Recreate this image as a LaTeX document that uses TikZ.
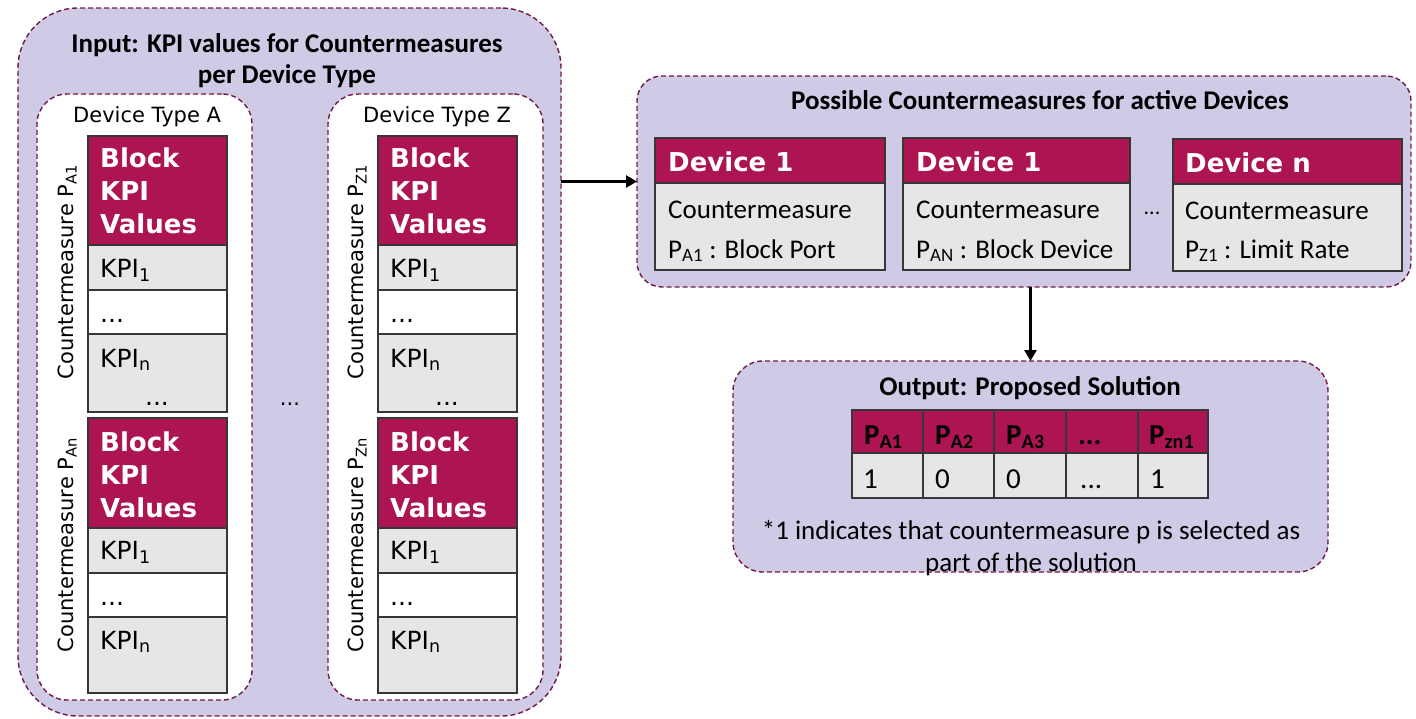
\documentclass[tikz,border=0pt]{standalone}
\usepackage{fontspec}
\setmainfont{Carlito}
\newfontfamily\vfont{DejaVu Sans}
\usetikzlibrary{arrows.meta}
\definecolor{lav}{RGB}{207,203,230}
\definecolor{mar}{RGB}{173,20,82}
\definecolor{dashc}{RGB}{115,25,72}
\definecolor{cellg}{RGB}{230,230,230}
\definecolor{edgec}{RGB}{55,55,55}
\newcommand\fsz[2]{\fontsize{#1}{#2}\selectfont}
% box helper: style, name, x1, y1, x2, y2
\newcommand\bx[6]{\node[#1, minimum width={(#5)-(#3)}, minimum height={(#6)-(#4)}] (#2) at ({((#3)+(#5))/2},{((#4)+(#6))/2}) {};}
\tikzset{
  panel/.style={draw=dashc, dash pattern=on 5pt off 3pt, line width=1.4pt, fill=lav, inner sep=0pt, outer sep=0pt},
  wpanel/.style={panel, fill=white},
  hdr/.style={draw=edgec, line width=1.4pt, fill=mar, inner sep=0pt, outer sep=0pt},
  cell/.style={draw=edgec, line width=1.4pt, fill=cellg, inner sep=0pt, outer sep=0pt},
  wcell/.style={cell, fill=white},
  lt/.style={inner sep=0pt, anchor=base west},
  ttl/.style={inner sep=0pt, anchor=base, font=\bfseries\fsz{27}{33}},
  vtxt/.style={lt, font=\vfont\fsz{21}{26}},
  ktxt/.style={lt, font=\vfont\fsz{25}{30}},
  vhdr/.style={lt, font=\vfont\bfseries\fsz{26}{32}, text=white},
  rot/.style={inner sep=0pt, anchor=center, rotate=90, font=\vfont\fsz{21}{26}},
  ctxt/.style={lt, font=\fsz{27}{33}},
  tval/.style={lt, font=\fsz{29}{33}},
  chdr/.style={lt, font=\bfseries\fsz{29}{33}},
  arr/.style={line width=3pt, -{Triangle[length=11pt,width=12pt]}}
}
\begin{document}
\begin{tikzpicture}[x=1pt,y=-1pt]
\useasboundingbox (0,0) rectangle (1416,718);

% ---------- Input panel ----------
\node[panel, rounded corners=60pt, minimum width=543, minimum height=708] (inp) at (289.5,362) {};
\node[ttl] (inpt1) at (287,52) {Input: KPI values for Countermeasures};
\node[ttl] (inpt2) at (287,83) {per Device Type};

\node[wpanel, rounded corners=30pt, minimum width=215, minimum height=606] (ta) at (144.5,397) {};
\node[wpanel, rounded corners=30pt, minimum width=215, minimum height=606] (tz) at (435.5,397) {};
\node[vtxt] (tal) at (73,122) {Device Type A};
\node[vtxt] (tzl) at (363,122) {Device Type Z};

% column A
\bx{hdr}{a1h}{88}{136}{227}{245}
\bx{cell}{a1k1}{88}{245}{227}{290}
\bx{wcell}{a1d}{88}{290}{227}{334}
\bx{cell}{a1kn}{88}{334}{227}{412}
\bx{hdr}{a2h}{88}{418}{227}{528}
\bx{cell}{a2k1}{88}{528}{227}{573}
\bx{wcell}{a2d}{88}{573}{227}{617}
\bx{cell}{a2kn}{88}{617}{227}{693}
% column Z
\bx{hdr}{z1h}{378}{136}{517}{245}
\bx{cell}{z1k1}{378}{245}{517}{290}
\bx{wcell}{z1d}{378}{290}{517}{334}
\bx{cell}{z1kn}{378}{334}{517}{412}
\bx{hdr}{z2h}{378}{418}{517}{528}
\bx{cell}{z2k1}{378}{528}{517}{573}
\bx{wcell}{z2d}{378}{573}{517}{617}
\bx{cell}{z2kn}{378}{617}{517}{693}

% texts A
\node[vhdr] (a1t1) at (100,167) {Block};
\node[vhdr] (a1t2) at (100,200) {KPI};
\node[vhdr] (a1t3) at (100,233) {Values};
\node[ktxt] (a1t4) at (100,277) {KPI\textsubscript{1}};
\node[ktxt] (a1t5) at (100,322) {...};
\node[ktxt] (a1t6) at (100,367) {KPI\textsubscript{n}};
\node[ktxt, anchor=base] (a1t7) at (157,405) {...};
\node[vhdr] (a2t1) at (100,451) {Block};
\node[vhdr] (a2t2) at (100,484) {KPI};
\node[vhdr] (a2t3) at (100,517) {Values};
\node[ktxt] (a2t4) at (100,559) {KPI\textsubscript{1}};
\node[ktxt] (a2t5) at (100,605) {...};
\node[ktxt] (a2t6) at (100,649) {KPI\textsubscript{n}};
% texts Z
\node[vhdr] (z1t1) at (390,167) {Block};
\node[vhdr] (z1t2) at (390,200) {KPI};
\node[vhdr] (z1t3) at (390,233) {Values};
\node[ktxt] (z1t4) at (390,277) {KPI\textsubscript{1}};
\node[ktxt] (z1t5) at (390,322) {...};
\node[ktxt] (z1t6) at (390,367) {KPI\textsubscript{n}};
\node[ktxt, anchor=base] (z1t7) at (447,405) {...};
\node[vhdr] (z2t1) at (390,451) {Block};
\node[vhdr] (z2t2) at (390,484) {KPI};
\node[vhdr] (z2t3) at (390,517) {Values};
\node[ktxt] (z2t4) at (390,559) {KPI\textsubscript{1}};
\node[ktxt] (z2t5) at (390,605) {...};
\node[ktxt] (z2t6) at (390,649) {KPI\textsubscript{n}};

% rotated labels
\node[rot] (ra1) at (67,272) {Countermeasure P\textsubscript{A1}};
\node[rot] (ra2) at (67,545) {Countermeasure P\textsubscript{An}};
\node[rot] (rz1) at (357,272) {Countermeasure P\textsubscript{Z1}};
\node[rot] (rz2) at (357,545) {Countermeasure P\textsubscript{Zn}};
\node[vtxt, anchor=base] (mdots) at (290,405) {...};

% ---------- Possible countermeasures panel ----------
\node[panel, rounded corners=25pt, minimum width=774, minimum height=211] (rp) at (1024,181.5) {};
\node[ttl] (rpt) at (1040,109) {Possible Countermeasures for active Devices};

\bx{hdr}{d1h}{655}{138}{885}{183}
\bx{cell}{d1b}{655}{183}{885}{270}
\bx{hdr}{d2h}{903}{138}{1130}{183}
\bx{cell}{d2b}{903}{183}{1130}{270}
\bx{hdr}{d3h}{1173}{139}{1402}{184}
\bx{cell}{d3b}{1173}{184}{1402}{271}

\node[vhdr] (d1t) at (668,171) {Device 1};
\node[ctxt] (d1c) at (668,218) {Countermeasure};
\node[ctxt] (d1p) at (668,258) {P\textsubscript{A1} : Block Port};
\node[vhdr] (d2t) at (916,171) {Device 1};
\node[ctxt] (d2c) at (916,218) {Countermeasure};
\node[ctxt] (d2p) at (916,258) {P\textsubscript{AN} : Block Device};
\node[vhdr] (d3t) at (1185,172) {Device n};
\node[ctxt] (d3c) at (1185,219) {Countermeasure};
\node[ctxt] (d3p) at (1185,258) {P\textsubscript{Z1} : Limit Rate};
\node[inner sep=0pt, anchor=base, font=\fsz{22}{26}] (ddots) at (1152,214) {...};

% ---------- Output panel ----------
\node[panel, rounded corners=30pt, minimum width=595, minimum height=211] (op) at (1030.5,466.5) {};
\node[ttl] (opt) at (1030,395) {Output: Proposed Solution};

\bx{hdr}{h1}{852}{410}{923}{453}
\bx{hdr}{h2}{923}{410}{994}{453}
\bx{hdr}{h3}{994}{410}{1066}{453}
\bx{hdr}{h4}{1066}{410}{1138}{453}
\bx{hdr}{h5}{1138}{410}{1208}{453}
\bx{cell}{v1}{852}{453}{923}{498}
\bx{cell}{v2}{923}{453}{994}{498}
\bx{cell}{v3}{994}{453}{1066}{498}
\bx{cell}{v4}{1066}{453}{1138}{498}
\bx{cell}{v5}{1138}{453}{1208}{498}

\node[chdr] (h1t) at (864,444) {P\textsubscript{A1}};
\node[chdr] (h2t) at (935,444) {P\textsubscript{A2}};
\node[chdr] (h3t) at (1006,444) {P\textsubscript{A3}};
\node[chdr] (h4t) at (1078,444) {...};
\node[chdr] (h5t) at (1149,444) {P\textsubscript{zn1}};
\node[tval] (v1t) at (863,488) {1};
\node[tval] (v2t) at (935,488) {0};
\node[tval] (v3t) at (1006,488) {0};
\node[tval] (v4t) at (1080,488) {...};
\node[tval] (v5t) at (1150,488) {1};

\node[inner sep=0pt, anchor=base, font=\fsz{27}{33}] (fn1) at (1031,539) {*1 indicates that countermeasure p is selected as};
\node[inner sep=0pt, anchor=base, font=\fsz{27}{33}] (fn2) at (1031,571) {part of the solution};

% ---------- connectors ----------
\draw[arr] (inp.east |- rp.west) -- (rp.west);
\draw[arr] (rp.south -| op.north) -- (op.north);
\end{tikzpicture}
\end{document}
